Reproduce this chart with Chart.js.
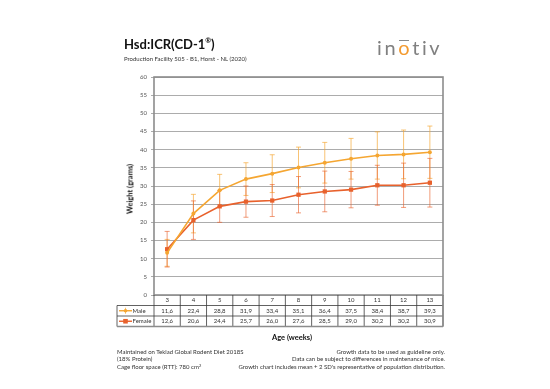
<!DOCTYPE html>
<html>
<head>
<meta charset="utf-8">
<script src="https://cdn.jsdelivr.net/npm/chart.js@4.4.1/dist/chart.umd.min.js"></script>
<style>
  body { margin: 0; background: #fff; font-family: Lato, "Open Sans", sans-serif; }
  #wrap { position: relative; width: 550px; height: 389px; overflow: hidden; }
  canvas { position: absolute; left: 0; top: 0; }
  .txt { position: absolute; white-space: nowrap; color: #222; }
  #title { left: 124px; top: 38px; font-size: 13px; line-height: 13px; font-weight: 700; color: #111; }
  #title sup { font-size: 7px; vertical-align: 6px; line-height: 0; }
  #sub { left: 124px; top: 55px; font-size: 6px; line-height: 7px; color: #333; }
  #logo { left: 377px; top: 36px; font-size: 20px; line-height: 22px; font-weight: 400; color: #808080; letter-spacing: 2.6px; }
  #logo .o { color: #f39a2f; position: relative; }
  #logo .o::after { content: ''; position: absolute; left: 1px; right: 3.6px; top: 4.5px; height: 1.6px; background: #8a8a8a; }
  #ytitle { left: 130px; top: 189px; font-size: 7.5px; font-weight: 700; color: #111; transform: translate(-50%, -50%) rotate(-90deg); }
  #xtitle { left: 292px; top: 337px; font-size: 7.5px; font-weight: 700; color: #111; transform: translate(-50%, -50%); }
  .foot { top: 348px; font-size: 6px; line-height: 7.4px; color: #333; }
  #footL { left: 117px; }
  #footR { right: 105px; text-align: right; }
  .foot sup { font-size: 4px; vertical-align: 2px; line-height: 0; }
</style>
</head>
<body>
<div id="wrap">
  <canvas id="chart" width="550" height="389"></canvas>
  <div class="txt" id="title">Hsd:ICR(CD-1<sup>®</sup>)</div>
  <div class="txt" id="sub">Production Facility 505 - B1, Horst - NL (2020)</div>
  <div class="txt" id="logo">in<span class="o">o</span>tiv</div>
  <div class="txt" id="ytitle">Weight (grams)</div>
  <div class="txt" id="xtitle">Age (weeks)</div>
  <div class="txt foot" id="footL">Maintained on Teklad Global Rodent Diet 2018S<br>(18% Protein)<br>Cage floor space (RTT): 780 cm<sup>2</sup></div>
  <div class="txt foot" id="footR">Growth data to be used as guideline only.<br>Data can be subject to differences in maintenance of mice.<br>Growth chart includes mean + 2 SD's representative of population distribution.</div>
</div>
<script>
// age in weeks
const weeks = ['3', '4', '5', '6', '7', '8', '9', '10', '11', '12', '13'];
// mean weight (grams)
const male = [11.6, 22.4, 28.8, 31.9, 33.4, 35.1, 36.4, 37.5, 38.4, 38.7, 39.3];
const female = [12.6, 20.6, 24.4, 25.7, 26.0, 27.6, 28.5, 29.0, 30.2, 30.2, 30.9];
// 2 SD
const male2SD = [3.7, 5.3, 4.4, 4.5, 5.2, 5.6, 5.6, 5.6, 6.5, 6.7, 7.2];
const female2SD = [4.9, 5.3, 4.4, 4.3, 4.4, 5.0, 5.6, 5.0, 5.5, 6.1, 6.7];

const MALE_COL = '#f5a631';
const FEMALE_COL = '#e8612c';

const fmt = v => v.toFixed(1).replace('.', ',');

// error bars drawn through the scales
const errorBars = {
  id: 'errorBars',
  beforeDatasetsDraw(chart) {
    const { ctx, scales: { x, y } } = chart;
    const sets = [[male, male2SD, 'rgba(245,166,49,0.75)'], [female, female2SD, 'rgba(232,97,44,0.7)']];
    ctx.save();
    ctx.lineWidth = 0.9;
    sets.forEach(([vals, sd, col]) => {
      ctx.strokeStyle = col;
      vals.forEach((v, i) => {
        const px = x.getPixelForValue(i);
        const top = y.getPixelForValue(v + sd[i]);
        const bot = y.getPixelForValue(v - sd[i]);
        ctx.beginPath();
        ctx.moveTo(px, top); ctx.lineTo(px, bot);
        ctx.moveTo(px - 2.5, top); ctx.lineTo(px + 2.5, top);
        ctx.moveTo(px - 2.5, bot); ctx.lineTo(px + 2.5, bot);
        ctx.stroke();
      });
    });
    ctx.restore();
  }
};

// plot frame + data table under the axis
const dataTable = {
  id: 'dataTable',
  afterDraw(chart) {
    const { ctx, chartArea: a, scales: { x } } = chart;
    ctx.save();
    // frame
    ctx.strokeStyle = '#8c8c8c';
    ctx.lineWidth = 1.6;
    ctx.strokeRect(a.left, a.top, a.right - a.left, a.bottom - a.top);

    const rowH = 10.5;
    const r0 = a.bottom, r1 = r0 + rowH, r2 = r1 + rowH, r3 = r2 + rowH;
    const legL = 117;
    const colW = (a.right - a.left) / weeks.length;

    ctx.strokeStyle = '#3a3a3a';
    ctx.lineWidth = 0.8;
    ctx.beginPath();
    ctx.moveTo(a.left, r1); ctx.lineTo(a.right, r1);
    ctx.moveTo(legL, r1); ctx.lineTo(a.left, r1);
    ctx.moveTo(legL, r2); ctx.lineTo(a.right, r2);
    ctx.moveTo(legL, r1); ctx.lineTo(legL, r3);
    for (let i = 0; i <= weeks.length; i++) {
      const px = x.getPixelForValue(i) - colW / 2;
      ctx.moveTo(px, r0); ctx.lineTo(px, r3);
    }
    ctx.stroke();
    ctx.strokeStyle = '#8c8c8c';
    ctx.lineWidth = 1.6;
    ctx.beginPath();
    ctx.moveTo(legL, r3); ctx.lineTo(a.right, r3);
    ctx.moveTo(a.right, r0); ctx.lineTo(a.right, r3);
    ctx.stroke();

    ctx.fillStyle = '#333';
    ctx.font = '6px Lato, sans-serif';
    ctx.textAlign = 'center';
    ctx.textBaseline = 'middle';
    weeks.forEach((w, i) => {
      const px = x.getPixelForValue(i);
      ctx.fillText(w, px, (r0 + r1) / 2);
      ctx.fillText(fmt(male[i]), px, (r1 + r2) / 2);
      ctx.fillText(fmt(female[i]), px, (r2 + r3) / 2);
    });

    // legend keys
    const keys = [['Male', MALE_COL, 'circle', (r1 + r2) / 2], ['Female', FEMALE_COL, 'rect', (r2 + r3) / 2]];
    keys.forEach(([label, col, shape, cy]) => {
      ctx.strokeStyle = col;
      ctx.fillStyle = col;
      ctx.lineWidth = 1.4;
      ctx.beginPath();
      ctx.moveTo(119, cy); ctx.lineTo(132, cy);
      ctx.stroke();
      if (shape === 'rect') ctx.fillRect(123.2, cy - 2.3, 4.6, 4.6);
      else {
        ctx.beginPath(); ctx.arc(125.5, cy, 1.8, 0, Math.PI * 2); ctx.fill();
        ctx.lineWidth = 0.7;
        ctx.beginPath(); ctx.moveTo(125.5, cy - 3); ctx.lineTo(125.5, cy + 3); ctx.stroke();
      }
      ctx.fillStyle = '#333';
      ctx.textAlign = 'left';
      ctx.fillText(label, 132.5, cy);
    });
    ctx.restore();
  }
};

new Chart(document.getElementById('chart'), {
  type: 'line',
  data: {
    labels: weeks,
    datasets: [
      {
        label: 'Male', data: male, borderColor: MALE_COL, backgroundColor: MALE_COL,
        borderWidth: 1.6, pointStyle: 'circle', pointRadius: 2, pointBorderWidth: 0, tension: 0
      },
      {
        label: 'Female', data: female, borderColor: FEMALE_COL, backgroundColor: FEMALE_COL,
        borderWidth: 1.6, pointStyle: 'rect', pointRadius: 3, pointBorderWidth: 0, tension: 0
      }
    ]
  },
  options: {
    responsive: false,
    animation: false,
    layout: { padding: { top: 77, right: 107, bottom: 94, left: 0 } },
    plugins: { legend: { display: false }, tooltip: { enabled: false } },
    scales: {
      x: { display: false, offset: true },
      y: {
        min: 0, max: 60,
        ticks: { stepSize: 5, color: '#555', font: { family: 'Lato', size: 6 }, padding: 4 },
        grid: { color: '#a3a3a3', lineWidth: 0.9, tickLength: 3 },
        border: { display: false },
        afterFit(scale) { scale.width = 154; }
      }
    }
  },
  plugins: [errorBars, dataTable]
});
</script>
</body>
</html>
